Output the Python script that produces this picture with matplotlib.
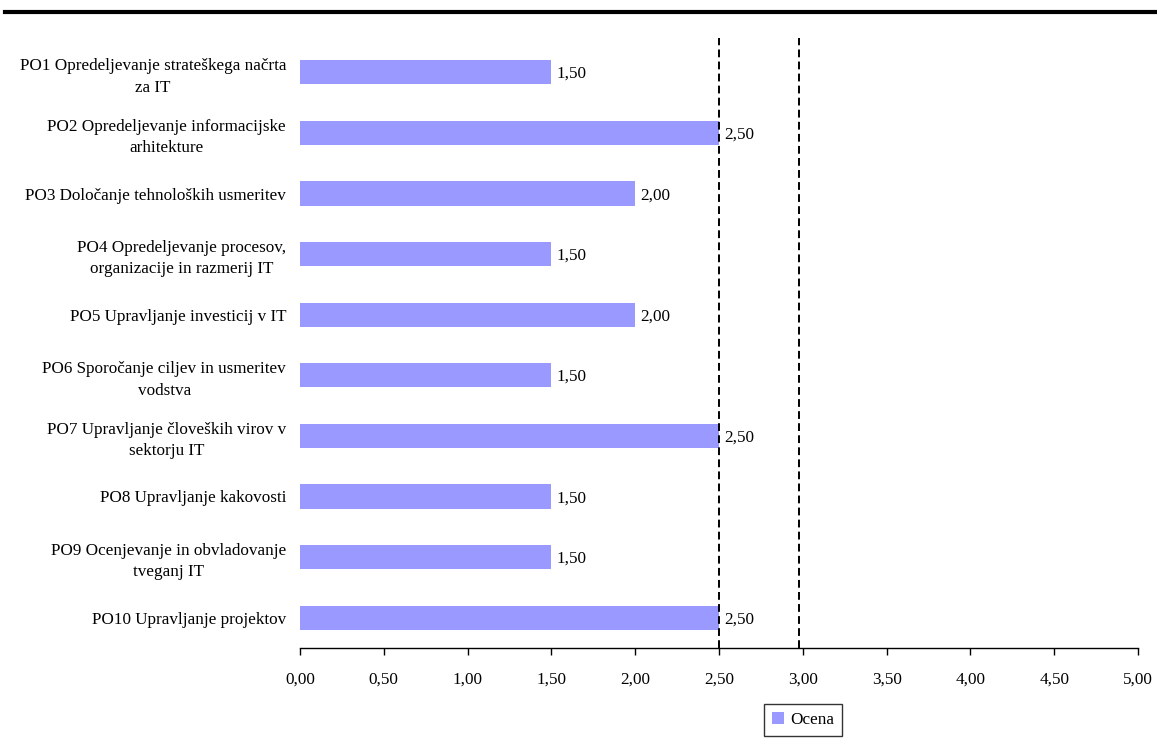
import matplotlib.pyplot as plt
from matplotlib.lines import Line2D

# data
categories = [
    'PO1 Opredeljevanje strateškega načrta\nza IT',
    'PO2 Opredeljevanje informacijske\narhitekture',
    'PO3 Določanje tehnoloških usmeritev',
    'PO4 Opredeljevanje procesov,\norganizacije in razmerij IT',
    'PO5 Upravljanje investicij v IT',
    'PO6 Sporočanje ciljev in usmeritev\nvodstva',
    'PO7 Upravljanje človeških virov v\nsektorju IT',
    'PO8 Upravljanje kakovosti',
    'PO9 Ocenjevanje in obvladovanje\ntveganj IT',
    'PO10 Upravljanje projektov',
]
ocena = [1.5, 2.5, 2.0, 1.5, 2.0, 1.5, 2.5, 1.5, 1.5, 2.5]
ref_lines = [2.5, 2.98]
xticks = [0, 0.5, 1, 1.5, 2, 2.5, 3, 3.5, 4, 4.5, 5]

fs = 12.3
bar_col = '#9999ff'
plt.rcParams['font.family'] = ['Liberation Serif', 'DejaVu Serif']

fig = plt.figure(figsize=(11.57, 7.48), dpi=100)
ax = fig.add_axes([300/1157, 1-648/748, 838/1157, 606/748])

ypos = list(range(len(categories)))
ax.barh(ypos, ocena, height=0.4, color=bar_col, label='Ocena', zorder=2)
for y, v in zip(ypos, ocena):
    ax.text(v + 0.03, y + 0.03, f'{v:.2f}'.replace('.', ','), va='center', ha='left', fontsize=fs, zorder=4)

# dashed reference lines, reaching a little above the plot area
for xr in ref_lines:
    ax.axvline(xr, ymax=1.007, color='black', linestyle=(0, (4, 2.2)), linewidth=1.4, zorder=3, clip_on=False)

ax.set_ylim(len(categories) - 0.5, -0.5)
ax.set_xlim(0, 5)
ax.set_yticks(ypos)
ax.set_yticklabels(categories, fontsize=fs, multialignment='center', linespacing=1.45)
ax.tick_params(axis='y', length=0, pad=10)
ax.set_xticks(xticks)
ax.set_xticklabels([f'{t:.2f}'.replace('.', ',') for t in xticks], fontsize=fs)
ax.tick_params(axis='x', direction='out', length=5, width=1, pad=12)
for s in ['top', 'right', 'left']:
    ax.spines[s].set_visible(False)
ax.spines['bottom'].set_linewidth(1)

leg = ax.legend(loc='center', bbox_to_anchor=(803/1157, 1-720/748), bbox_transform=fig.transFigure,
                frameon=True, fancybox=False, fontsize=fs, handlelength=0.75, handleheight=0.75,
                handletextpad=0.35, borderpad=0.45)
leg.get_frame().set_edgecolor('black')
leg.get_frame().set_linewidth(1)

# thick rule at top of figure
fig.add_artist(Line2D([5/1157, 1], [1-12/748, 1-12/748], color='black', linewidth=3, transform=fig.transFigure))

fig.savefig('out.png', dpi=100)
